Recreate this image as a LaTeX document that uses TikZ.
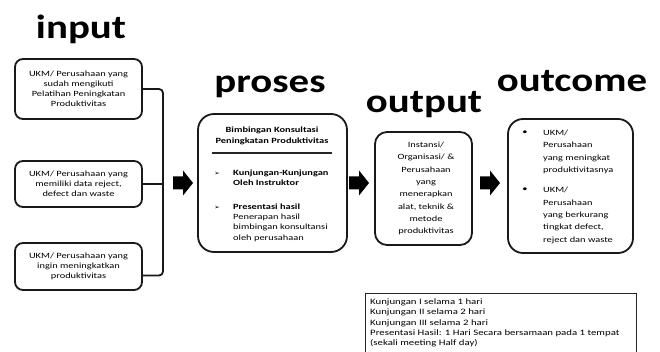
\documentclass[tikz,border=0pt]{standalone}
\usepackage{fontspec}
\setmainfont{Carlito}[FakeStretch=1.3]
\newfontfamily\titlefont{Carlito}[FakeStretch=1.22]
\newfontfamily\symfont{DejaVu Sans}
\begin{document}
\begin{tikzpicture}[x=1pt,y=-1pt,
  box/.style={draw=black!90, line width=1.8pt, rounded corners=#1, inner sep=0pt},
  box/.default=8pt,
  txt/.style={font=\fontsize{8}{10}\selectfont, align=center, inner sep=0pt, text=black},
  ltxt/.style={font=\fontsize{8}{10.3}\selectfont, align=left, inner sep=0pt, text=black},
  ttl/.style={font=\titlefont\bfseries\fontsize{33.5}{40}\selectfont, anchor=base, inner sep=0pt},
  conn/.style={draw=black!90, line width=1.8pt, rounded corners=4pt},
  bigarrow/.style={fill=black}
]
\useasboundingbox (0,0) rectangle (660,352);
\clip (0,0) rectangle (660,352);
\fill[white] (0,0) rectangle (660,352);

% titles
\node[ttl] (tin) at (81,39) {input};
\node[ttl] (tpro) at (270,93) {proses};
\node[ttl] (tout) at (424,113) {output};
\node[ttl] (toc) at (572,92) {outcome};

% input boxes
\node[box, minimum width=127pt, minimum height=60pt] (b1) at (78.5,89) {};
\node[txt] (b1t) at (b1.center) {UKM/ Perusahaan yang\\sudah mengikuti\\Pelatihan Peningkatan\\Produktivitas};
\node[box, minimum width=127pt, minimum height=46pt] (b2) at (78.5,184) {};
\node[txt] (b2t) at (b2.center) {UKM/ Perusahaan yang\\memiliki data reject,\\defect dan waste};
\node[box, minimum width=127pt, minimum height=47pt] (b3) at (78.5,266.5) {};
\node[txt] (b3t) at (b3.center) {UKM/ Perusahaan yang\\ingin meningkatkan\\produktivitas};

% bracket
\coordinate (bx) at (163,0);
\draw[conn] (b1.east) -| (bx |- b2.east) |- ([yshift=-9pt]b3.east);
\draw[conn] (b2.east) -- (b2.east -| bx);

% arrows
\coordinate (a1) at (183,183);
\coordinate (a2) at (359,183);
\coordinate (a3) at (490,183);
\foreach \a in {a1,a2,a3}{
  \fill[bigarrow, shift={(\a)}] (-10,-6.5) -- (0,-6.5) -- (0,-12.5) -- (10,0) -- (0,12.5) -- (0,6.5) -- (-10,6.5) -- cycle;
}

% proses box
\node[box=16pt, minimum width=149pt, minimum height=138pt] (pb) at (272.5,183) {};
\node[txt, font=\bfseries\fontsize{8}{11}\selectfont] (pt) at (272,136) {Bimbingan Konsultasi\\Peningkatan Produktivitas};
\draw[line width=1.8pt, black!85] (212,153) -- (332,153);
\node[inner sep=0pt, font=\symfont\fontsize{6.5}{6.5}\selectfont] (pk1) at (217,174) {➢};
\node[ltxt, anchor=west, font=\bfseries\fontsize{8}{10.3}\selectfont] (pi1) at (233,178) {Kunjungan-Kunjungan\\Oleh Instruktor};
\node[inner sep=0pt, font=\symfont\fontsize{6.5}{6.5}\selectfont] (pk2) at (217,208) {➢};
\node[ltxt, anchor=west] (pi2) at (233,222.5) {\textbf{Presentasi hasil}\\Penerapan hasil\\bimbingan konsultansi\\oleh perusahaan};

% output box
\node[box=12pt, minimum width=97pt, minimum height=113pt] (ob) at (423.5,188.5) {};
\node[txt, font=\fontsize{8}{12.3}\selectfont] (ot) at (426,188.5) {Instansi/\\Organisasi/ \&\\Perusahaan\\yang\\menerapkan\\alat, teknik \&\\metode\\produktivitas};

% outcome box
\node[box=15pt, minimum width=125pt, minimum height=134pt] (ocb) at (570.5,186) {};
\node[inner sep=0pt, font=\fontsize{8}{8}\selectfont] (ok1) at (525,133) {•};
\node[ltxt, anchor=west, font=\fontsize{8}{12.4}\selectfont] (oc1) at (543,152) {UKM/\\Perusahaan\\yang meningkat\\produktivitasnya};
\node[inner sep=0pt, font=\fontsize{8}{8}\selectfont] (ok2) at (525,190) {•};
\node[ltxt, anchor=west, font=\fontsize{8}{12.4}\selectfont] (oc2) at (543,215.5) {UKM/\\Perusahaan\\yang berkurang\\tingkat defect,\\reject dan waste};

% schedule box
\node[draw=black!85, line width=1.4pt, minimum width=271pt, minimum height=80pt, anchor=north west, inner sep=0pt] (sb) at (365,293) {};
\node[ltxt, anchor=west, font=\fontsize{8.3}{10.2}\selectfont] (st) at (370,323) {Kunjungan I selama 1 hari\\Kunjungan II selama 2 hari\\Kunjungan III selama 2 hari\\Presentasi Hasil: 1 Hari Secara bersamaan pada 1 tempat\\(sekali meeting Half day)};
\end{tikzpicture}
\end{document}
